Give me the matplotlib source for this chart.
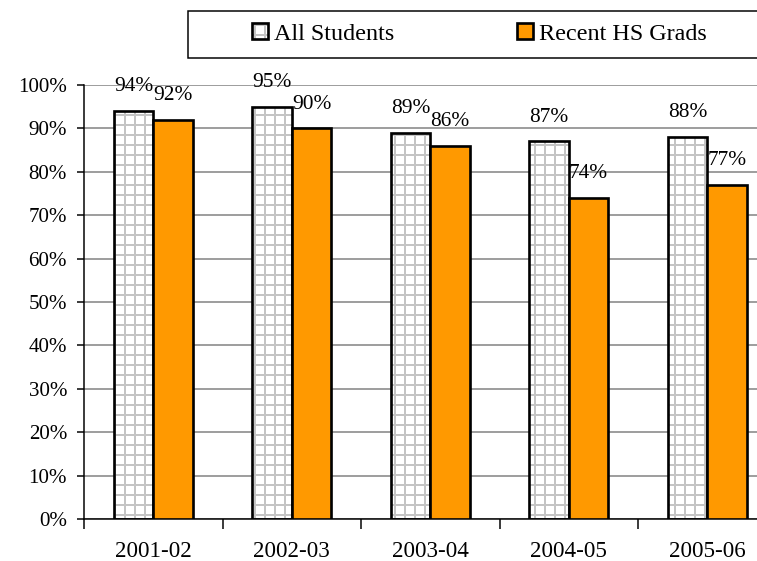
import matplotlib
matplotlib.use("Agg")
import matplotlib.pyplot as plt
import numpy as np
from matplotlib.patches import Rectangle
from matplotlib.legend_handler import HandlerTuple

# data
years = ["2001-02", "2002-03", "2003-04", "2004-05", "2005-06"]
all_students = [94, 95, 89, 87, 88]
recent_hs = [92, 90, 86, 74, 77]
y_ticks = [0, 10, 20, 30, 40, 50, 60, 70, 80, 90, 100]

plt.rcParams["font.family"] = ["Liberation Serif", "DejaVu Serif"]
plt.rcParams["hatch.linewidth"] = 1.2
DPI = 120
W, H = 757, 561

fig = plt.figure(figsize=(W / DPI, H / DPI), dpi=DPI)
ax = fig.add_axes([84 / W, 42 / H, 692.5 / W, 434 / H])

x = np.arange(len(years))
bw = 0.285

# hatched fill first, black outline on top (hatch colour follows edge colour)
fill = ax.bar(x - bw / 2, all_students, bw, color="white", edgecolor="#c4c4c4",
              hatch="++", linewidth=0, zorder=2)
outline = ax.bar(x - bw / 2, all_students, bw, color="none", edgecolor="black",
                 linewidth=1.6, zorder=3)
orange = ax.bar(x + bw / 2, recent_hs, bw, color="#ff9900", edgecolor="black",
                linewidth=1.6, zorder=3)

# data labels
for bars, vals in [(outline, all_students), (orange, recent_hs)]:
    for b, v in zip(bars, vals):
        ax.annotate(f"{v}%", (b.get_x() + b.get_width() / 2, v),
                    xytext=(0, 14.5), textcoords="offset points",
                    ha="center", va="center", fontsize=12.8, clip_on=False)

ax.set_xlim(-0.5, len(years) - 0.5)
ax.set_ylim(0, 100)
ax.set_yticks(y_ticks)
ax.set_yticklabels([f"{t}%" for t in y_ticks], fontsize=12.6)
ax.yaxis.grid(True, color="#808080", linewidth=0.9)
ax.set_axisbelow(True)

# category boundaries get the tick marks, labels sit between them
ax.set_xticks(np.arange(-0.5, len(years), 1.0))
ax.set_xticklabels([])
ax.set_xticks(x, minor=True)
ax.set_xticklabels(years, minor=True, fontsize=13.8)
ax.tick_params(axis="x", which="major", length=6, width=0.9, direction="out")
ax.tick_params(axis="x", which="minor", length=0, pad=13)
ax.tick_params(axis="y", length=4.2, width=0.9, pad=6)

for s in ["top", "right"]:
    ax.spines[s].set_visible(False)
ax.spines["left"].set_linewidth(0.9)
ax.spines["bottom"].set_linewidth(0.9)

# legend box runs off the right edge like the original
frame = Rectangle((188 / W, 1 - 58 / H), 700 / W, 47 / H, transform=fig.transFigure,
                  facecolor="white", edgecolor="black", linewidth=0.9, clip_on=False)
fig.patches.append(frame)
fig.legend([(fill[0], outline[0]), orange[0]], ["All Students", "Recent HS Grads"],
           handler_map={tuple: HandlerTuple(ndivide=1, pad=0)},
           loc="center left", bbox_to_anchor=(252 / W, 1 - 34 / H),
           ncol=2, frameon=False, fontsize=14.5, borderpad=0, borderaxespad=0,
           handlelength=0.66, handleheight=0.66, handletextpad=0.25,
           columnspacing=5.1)

fig.savefig("out.png", dpi=DPI)
